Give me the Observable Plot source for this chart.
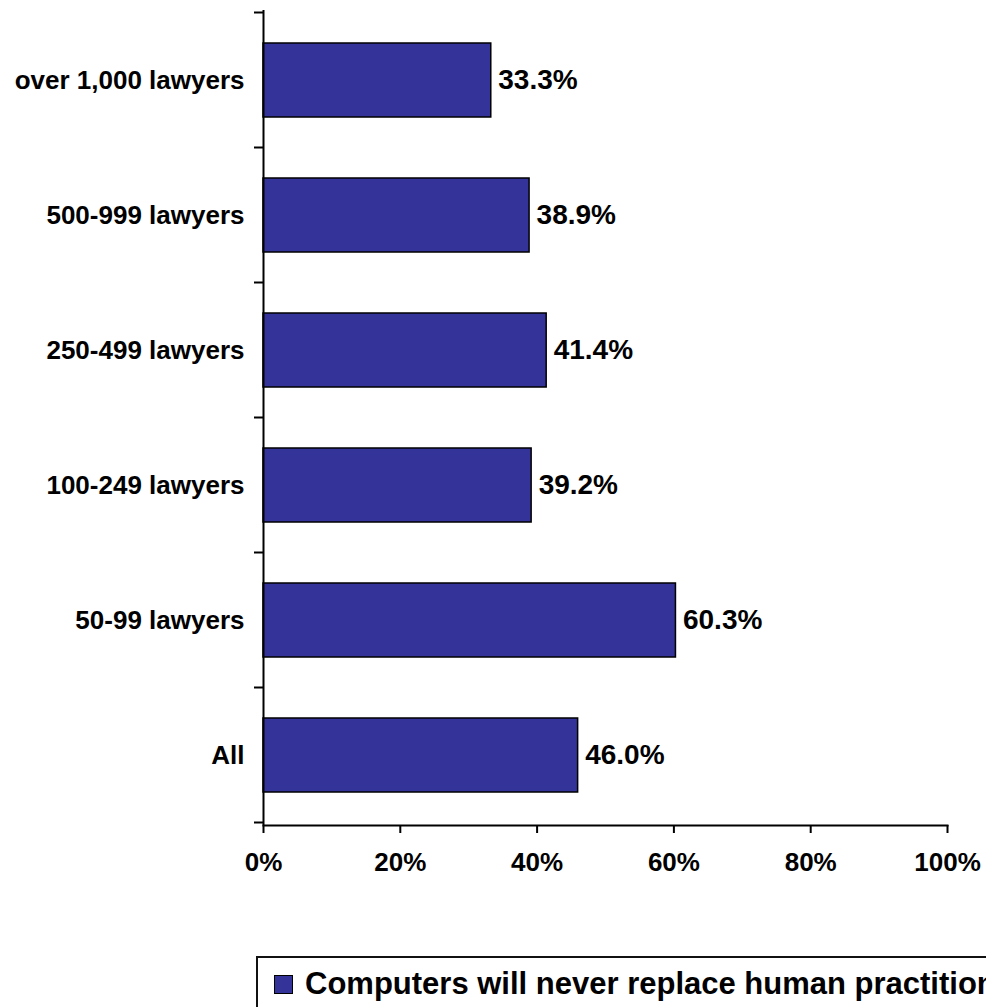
<!DOCTYPE html>
<html>
<head>
<meta charset="utf-8">
<script src="https://cdn.jsdelivr.net/npm/d3@7"></script>
<script src="https://cdn.jsdelivr.net/npm/@observablehq/plot@0.6"></script>
<style>
  html, body { margin: 0; padding: 0; background: #fff; overflow: hidden; width: 986px; height: 1007px; }
  #chart { position: absolute; left: 0; top: 0; }
  #legend {
    position: absolute; left: 256px; top: 956px;
    width: 1000px; height: 100px;
    border: 2px solid #111; box-sizing: border-box; background: #fff;
    font-family: "Liberation Sans", Arial, Helvetica, sans-serif;
    font-weight: bold; font-size: 31px; color: #000; white-space: nowrap;
  }
  #legend .sw {
    position: absolute; left: 16px; top: 17px; width: 17px; height: 17px;
    background: #333399; border: 1px solid #000;
  }
  #legend .lab { position: absolute; left: 47px; top: 10px; line-height: 31px; }
</style>
</head>
<body>
<div id="chart"></div>
<div id="legend"><span class="sw"></span><span class="lab"></span></div>
<script>
const categories = ["over 1,000 lawyers", "500-999 lawyers", "250-499 lawyers", "100-249 lawyers", "50-99 lawyers", "All"];
const values = [33.3, 38.9, 41.4, 39.2, 60.3, 46.0];
const xTicks = [0, 20, 40, 60, 80, 100];
const seriesName = "Computers will never replace human practitioners";
const barColor = "#333399";

const data = categories.map((c, i) => ({category: c, value: values[i]}));

// boundary ticks on the category axis (Excel style, between bands)
function boundaryTicks(index, scales, values, dimensions) {
  const y = scales.y, x = scales.x;
  const step = y.step();
  const x0 = x(0);
  const g = d3.create("svg:g");
  const edges = y.domain().map(d => y(d) - (step - y.bandwidth()) / 2);
  edges.push(edges[edges.length - 1] + step);
  for (const e of edges) {
    g.append("line").attr("x1", x0 - 9).attr("x2", x0).attr("y1", e).attr("y2", e)
      .attr("stroke", "#000").attr("stroke-width", 2);
  }
  return g.node();
}

const font = "'Liberation Sans', Arial, Helvetica, sans-serif";

const chart = Plot.plot({
  width: 986,
  height: 900,
  marginLeft: 263,
  marginRight: 39,
  marginTop: 10,
  marginBottom: 75,
  style: {fontFamily: font, fontWeight: "bold", color: "#000", background: "#fff", overflow: "visible"},
  x: {domain: [0, 100]},
  y: {domain: categories, paddingInner: 0.45, paddingOuter: 0.225, align: 0.5},
  marks: [
    Plot.barX(data, {y: "category", x: "value", fill: barColor, stroke: "#000", strokeWidth: 1.5}),
    Plot.text(data, {y: "category", x: "value", text: d => d.value.toFixed(1) + "%",
      textAnchor: "start", dx: 7, fontSize: 28, fontWeight: "bold", fill: "#000"}),
    Plot.axisY({tickSize: 0, tickPadding: 19, fontSize: 26, fontWeight: "bold", label: null,
      fill: "#000", style: {letterSpacing: "0.3px"}}),
    Plot.axisX({ticks: xTicks, tickFormat: d => d + "%", tickSize: 8, tickPadding: 19,
      fontSize: 26, fontWeight: "bold", label: null, strokeWidth: 2, fill: "#000"}),
    Plot.frame({anchor: "bottom", stroke: "#000", strokeWidth: 2}),
    Plot.ruleX([0], {stroke: "#000", strokeWidth: 2}),
    boundaryTicks
  ]
});
document.getElementById("chart").appendChild(chart);
document.querySelector("#legend .lab").textContent = seriesName;
</script>
</body>
</html>
